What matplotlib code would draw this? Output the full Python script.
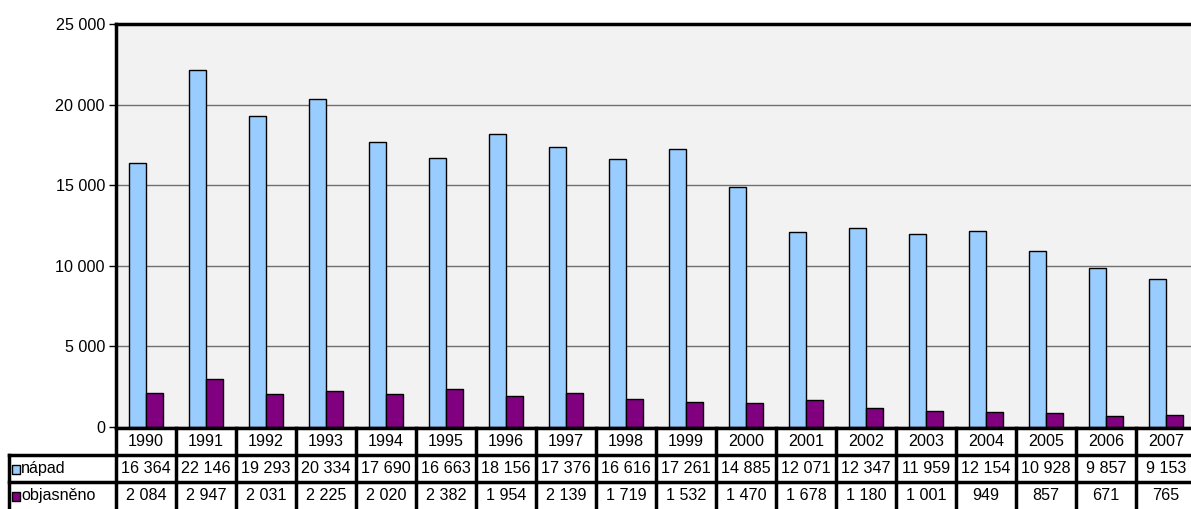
import matplotlib
matplotlib.use("Agg")
import matplotlib.pyplot as plt
import numpy as np
from matplotlib.patches import Rectangle

plt.rcParams['font.family'] = ['Liberation Sans', 'DejaVu Sans']

years = [str(y) for y in range(1990, 2008)]
napad = [16364, 22146, 19293, 20334, 17690, 16663, 18156, 17376, 16616,
         17261, 14885, 12071, 12347, 11959, 12154, 10928, 9857, 9153]
objasneno = [2084, 2947, 2031, 2225, 2020, 2382, 1954, 2139, 1719,
             1532, 1470, 1678, 1180, 1001, 949, 857, 671, 765]
series_names = ["nápad", "objasněno"]
colors = ["#99CCFF", "#800080"]
yticks = [0, 5000, 10000, 15000, 20000, 25000]


def fmt(v):
    return "{:,}".format(v).replace(",", " ")


W, H = 1191, 509
FS = 11.6
fig = plt.figure(figsize=(W / 100, H / 100), dpi=100)

# main plot area (px): left 116, top 24, zero line 427, cat width 60
x0, cw = 116, 60
ax = fig.add_axes([x0 / W, (H - 427) / H, cw * 18 / W, (427 - 24) / H])
ax.set_facecolor("#F2F2F2")
x = np.arange(len(years))
bw = 0.28
ax.bar(x - bw / 2, napad, bw, color=colors[0], edgecolor="black", lw=1, zorder=3)
ax.bar(x + bw / 2, objasneno, bw, color=colors[1], edgecolor="black", lw=1, zorder=3)
ax.set_xlim(-0.5, 17.5)
ax.set_ylim(0, 25000)
ax.set_yticks(yticks)
ax.set_yticklabels([fmt(t) for t in yticks], fontsize=FS)
ax.set_xticks([])
ax.yaxis.grid(True, color="#707070", lw=1)
ax.set_axisbelow(True)
ax.tick_params(axis="y", length=5, width=1, pad=3)
for s in ["right", "bottom"]:
    ax.spines[s].set_visible(False)
ax.spines["left"].set_linewidth(2.5)
ax.spines["top"].set_linewidth(2.5)

# data table below
tax = fig.add_axes([x0 / W, 0, cw * 18 / W, 81 / H])
tax.set_xlim(-0.5, 17.5)
tax.set_ylim(0, 3)
tax.axis("off")
lab_left = -0.5 - 107 / cw
lw = 2.5
for i in range(19):
    tax.plot([i - 0.5, i - 0.5], [0, 3], color="black", lw=lw, clip_on=False)
tax.plot([lab_left, lab_left], [0, 2], color="black", lw=lw, clip_on=False)
tax.plot([-0.5, 17.5], [3, 3], color="black", lw=lw, clip_on=False)
for yy in [2, 1]:
    tax.plot([lab_left, 17.5], [yy, yy], color="black", lw=lw, clip_on=False)

for i, yr in enumerate(years):
    tax.text(i, 2.5, yr, ha="center", va="center", fontsize=FS)
    tax.text(i, 1.5, fmt(napad[i]), ha="center", va="center", fontsize=FS)
    tax.text(i, 0.5, fmt(objasneno[i]), ha="center", va="center", fontsize=FS)

for r, (name, c) in enumerate(zip(series_names, colors)):
    yc = 1.5 - r
    tax.add_patch(Rectangle((lab_left + 3 / cw, yc - 0.2), 8 / cw, 0.34,
                            facecolor=c, edgecolor="black", lw=1, clip_on=False))
    tax.text(lab_left + 12 / cw, yc, name, ha="left", va="center", fontsize=FS)

fig.savefig("out.png", dpi=100)
